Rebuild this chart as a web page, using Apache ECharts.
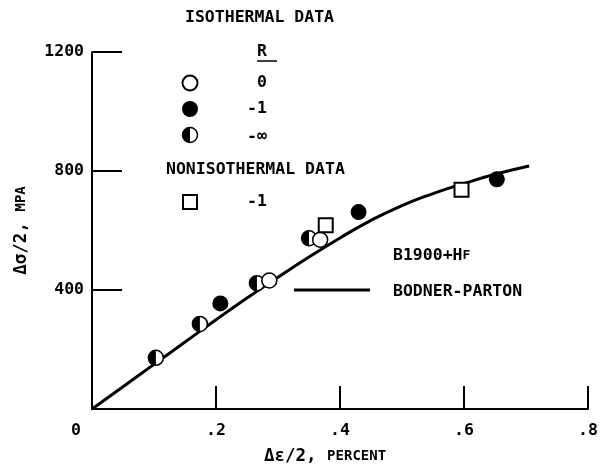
<!DOCTYPE html>
<html>
<head>
<meta charset="utf-8">
<script src="https://cdn.jsdelivr.net/npm/echarts@6/dist/echarts.min.js"></script>
<style>
  html, body { margin: 0; background: #fff; }
  #main { width: 610px; height: 470px; }
</style>
</head>
<body>
<div id="main"></div>
<script>
// Bodner-Parton model curve (strain amplitude %, stress amplitude MPa)
var curveX = [0, 0.05, 0.1, 0.15, 0.2, 0.25, 0.3, 0.35, 0.4, 0.45, 0.5, 0.55, 0.6, 0.65, 0.705];
var curveY = [0, 75, 150, 225, 300, 373, 443, 511, 575, 634, 684, 724, 758, 789, 817];

// isothermal data, by R
var openR0 = [[0.286, 432], [0.368, 569]];
var filledR1 = [[0.207, 355], [0.430, 662], [0.653, 772]];
var halfRinf = [[0.103, 172], [0.174, 286], [0.266, 423], [0.350, 574]];
// nonisothermal data, R = -1
var squareNoniso = [[0.377, 618], [0.596, 737]];

var font = '"DejaVu Sans Mono", monospace';
var weight = 'bold';

var curveData = curveX.map(function (x, i) { return [x, curveY[i]]; });

var chart = echarts.init(document.getElementById('main'));

function txt(text, x, y, align, size) {
    return {
        type: 'text', x: x, y: y,
        style: {
            text: text, fill: '#000',
            font: weight + ' ' + (size || 16.5) + 'px ' + font,
            textAlign: align || 'left', textVerticalAlign: 'middle'
        }
    };
}

var option = {
    backgroundColor: '#fff',
    animation: false,
    grid: { left: 92, right: 22, top: 52, bottom: 61 },
    xAxis: {
        type: 'value', min: 0, max: 0.8, interval: 0.2,
        splitLine: { show: false },
        axisLine: { lineStyle: { color: '#000', width: 2 } },
        axisTick: { inside: true, length: 23, lineStyle: { color: '#000', width: 2 } },
        axisLabel: {
            color: '#000', fontFamily: font, fontWeight: weight, fontSize: 16.5, margin: 13,
            formatter: function (v) {
                if (v === 0) return '{z|0}';
                return String(+v.toFixed(1)).replace(/^0/, '');
            },
            rich: { z: { fontFamily: font, fontWeight: weight, fontSize: 16.5, color: '#000', padding: [0, 32, 0, 0] } }
        },
        name: 'Δε/2, {s|PERCENT}',
        nameLocation: 'middle', nameGap: 38,
        nameTextStyle: {
            color: '#000', fontFamily: font, fontWeight: weight, fontSize: 17.5, padding: [0, 30, 0, 0],
            rich: { s: { fontFamily: font, fontWeight: weight, fontSize: 14, color: '#000' } }
        }
    },
    yAxis: {
        type: 'value', min: 0, max: 1200, interval: 400,
        splitLine: { show: false },
        axisLine: { show: true, lineStyle: { color: '#000', width: 2 } },
        axisTick: { show: true, inside: true, length: 30, lineStyle: { color: '#000', width: 2 } },
        axisLabel: {
            color: '#000', fontFamily: font, fontWeight: weight, fontSize: 16.5, margin: 8,
            formatter: function (v) { return v === 0 ? '' : String(v); }
        },
        name: 'Δσ/2, {s|MPA}',
        nameLocation: 'middle', nameRotate: 90, nameGap: 62,
        nameTextStyle: {
            color: '#000', fontFamily: font, fontWeight: weight, fontSize: 17.5,
            rich: { s: { fontFamily: font, fontWeight: weight, fontSize: 14, color: '#000' } }
        }
    },
    series: [
        {
            type: 'line', data: curveData, smooth: true, showSymbol: false,
            lineStyle: { color: '#000', width: 3 }, z: 1
        },
        {
            type: 'custom', data: halfRinf, z: 3,
            encode: { x: 0, y: 1 },
            renderItem: function (params, api) {
                var p = api.coord([api.value(0), api.value(1)]);
                var r = 7.5;
                return {
                    type: 'group',
                    children: [
                        { type: 'circle', shape: { cx: p[0], cy: p[1], r: r },
                          style: { fill: '#fff', stroke: '#000', lineWidth: 1.5 } },
                        { type: 'sector', shape: { cx: p[0], cy: p[1], r: r, r0: 0,
                            startAngle: Math.PI / 2, endAngle: Math.PI * 1.5, clockwise: true },
                          style: { fill: '#000' } }
                    ]
                };
            }
        },
        {
            type: 'scatter', data: filledR1, symbol: 'circle', symbolSize: 16, z: 3,
            itemStyle: { color: '#000', opacity: 1 }
        },
        {
            type: 'scatter', data: openR0, symbol: 'circle', symbolSize: 15, z: 4,
            itemStyle: { color: '#fff', borderColor: '#000', borderWidth: 1.5, opacity: 1 }
        },
        {
            type: 'scatter', data: squareNoniso, symbol: 'rect', symbolSize: 14, z: 4,
            itemStyle: { color: '#fff', borderColor: '#000', borderWidth: 2, opacity: 1 }
        }
    ],
    graphic: [
        txt('ISOTHERMAL DATA', 185, 18),
        txt('R', 257, 52),
        { type: 'line', shape: { x1: 257, y1: 61, x2: 277, y2: 61 }, style: { stroke: '#000', lineWidth: 1.5 } },
        { type: 'circle', shape: { cx: 190, cy: 83, r: 7.5 }, style: { fill: '#fff', stroke: '#000', lineWidth: 2 } },
        txt('0', 257, 83),
        { type: 'circle', shape: { cx: 190, cy: 109, r: 8 }, style: { fill: '#000' } },
        txt('-1', 247, 109),
        { type: 'circle', shape: { cx: 190, cy: 135, r: 7.5 }, style: { fill: '#fff', stroke: '#000', lineWidth: 1.5 } },
        { type: 'sector', shape: { cx: 190, cy: 135, r: 7.5, r0: 0, startAngle: Math.PI / 2, endAngle: Math.PI * 1.5, clockwise: true }, style: { fill: '#000' } },
        txt('-∞', 247, 137),
        txt('NONISOTHERMAL DATA', 166, 170),
        { type: 'rect', shape: { x: 183, y: 195, width: 14, height: 14 }, style: { fill: '#fff', stroke: '#000', lineWidth: 2 } },
        txt('-1', 247, 202),
        {
            type: 'text', x: 393, y: 256,
            style: {
                text: 'B1900+H{s|F}', fill: '#000', font: weight + ' 16.5px ' + font,
                textAlign: 'left', textVerticalAlign: 'middle',
                rich: { s: { fontSize: 13, fontFamily: font, fontWeight: weight, fill: '#000' } }
            }
        },
        { type: 'line', shape: { x1: 294, y1: 290, x2: 370, y2: 290 }, style: { stroke: '#000', lineWidth: 3 } },
        txt('BODNER-PARTON', 393, 292)
    ]
};

chart.setOption(option);

window.onresize = function () {
    chart.resize();
};
</script>
</body>
</html>
